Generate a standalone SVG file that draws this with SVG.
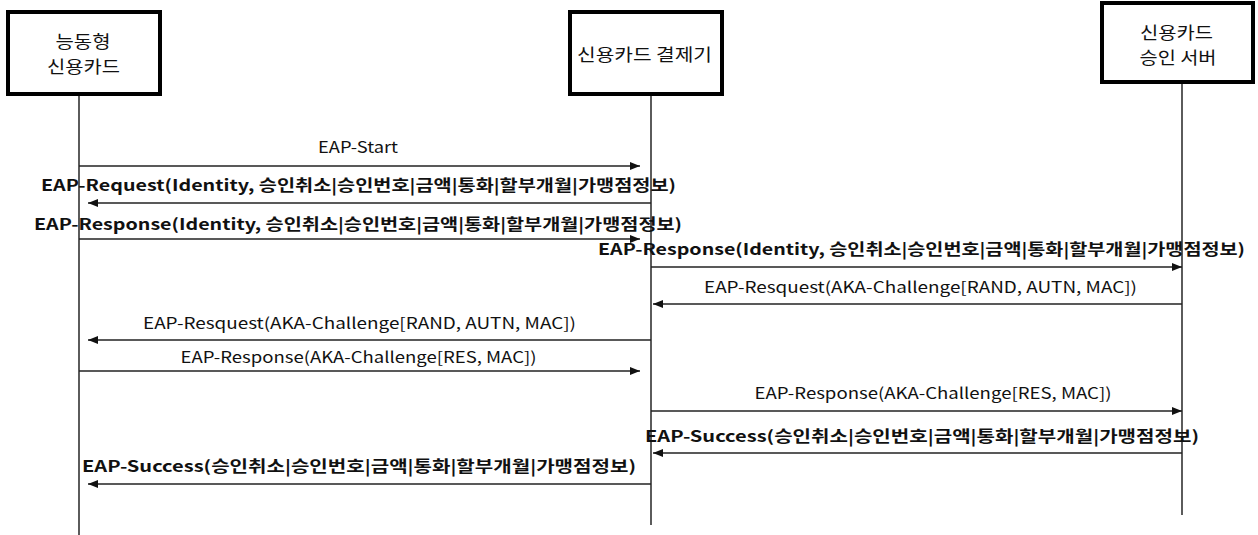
<svg xmlns="http://www.w3.org/2000/svg" width="1258" height="535" viewBox="0 0 1258 535">
<style>
.box{fill:#fff;stroke:#000;stroke-width:4}
.life{stroke:#333;stroke-width:1.6;fill:none}
.msg{stroke:#222;stroke-width:1.6;fill:none;marker-end:url(#ah)}
.nt{font-family:"Noto Sans CJK KR","Liberation Sans",sans-serif;font-size:17px;fill:#111;text-anchor:middle}
.lb{font-family:"Noto Sans CJK KR","Liberation Sans",sans-serif;font-size:15.5px;fill:#111;text-anchor:middle}
.bd{font-weight:700}
</style>
<defs>
<marker id="ah" markerUnits="userSpaceOnUse" markerWidth="11" markerHeight="9" refX="10" refY="4" orient="auto" viewBox="0 0 11 9">
<path d="M0,0 L10,4 L0,8 z" fill="#111"/>
</marker>
</defs>
<rect width="1258" height="535" fill="#fff"/>
<g id="node-card">
<rect class="box" x="8" y="12" width="152" height="82"/>
<text class="nt" x="83" y="48" textLength="55" lengthAdjust="spacingAndGlyphs">능동형</text>
<text class="nt" x="83.5" y="73" textLength="73" lengthAdjust="spacingAndGlyphs">신용카드</text>
<line class="life" x1="79" y1="96" x2="79" y2="535"/>
</g>
<g id="node-terminal">
<rect class="box" x="570" y="12" width="152" height="82"/>
<text class="nt" x="644.5" y="61" textLength="135" lengthAdjust="spacingAndGlyphs">신용카드 결제기</text>
<line class="life" x1="651" y1="96" x2="651" y2="525"/>
</g>
<g id="node-server">
<rect class="box" x="1102" y="3" width="151" height="79"/>
<text class="nt" x="1176.5" y="39" textLength="73" lengthAdjust="spacingAndGlyphs">신용카드</text>
<text class="nt" x="1178" y="64" textLength="77" lengthAdjust="spacingAndGlyphs">승인 서버</text>
<line class="life" x1="1182" y1="84" x2="1182" y2="515"/>
</g>
<g id="connectors">
<line class="msg" x1="79" y1="166" x2="640" y2="166"/>
<line class="msg" x1="651" y1="203" x2="88" y2="203"/>
<line class="msg" x1="79" y1="239" x2="640" y2="239"/>
<line class="msg" x1="651" y1="267" x2="1182" y2="267"/>
<line class="msg" x1="1182" y1="304" x2="653" y2="304"/>
<line class="msg" x1="651" y1="340" x2="88" y2="340"/>
<line class="msg" x1="79" y1="371" x2="640" y2="371"/>
<line class="msg" x1="651" y1="411" x2="1182" y2="411"/>
<line class="msg" x1="1182" y1="453" x2="653" y2="453"/>
<line class="msg" x1="651" y1="484" x2="88" y2="484"/>
</g>
<g id="labels">
<text class="lb" x="358" y="153" textLength="80" lengthAdjust="spacingAndGlyphs">EAP-Start</text>
<text class="lb bd" x="358.5" y="191" textLength="635" lengthAdjust="spacingAndGlyphs">EAP-Request(Identity, 승인취소|승인번호|금액|통화|할부개월|가맹점정보)</text>
<text class="lb bd" x="358" y="230" textLength="648" lengthAdjust="spacingAndGlyphs">EAP-Response(Identity, 승인취소|승인번호|금액|통화|할부개월|가맹점정보)</text>
<text class="lb bd" x="921.5" y="255" textLength="647" lengthAdjust="spacingAndGlyphs">EAP-Response(Identity, 승인취소|승인번호|금액|통화|할부개월|가맹점정보)</text>
<text class="lb" x="920.5" y="293" textLength="433" lengthAdjust="spacingAndGlyphs">EAP-Resquest(AKA-Challenge[RAND, AUTN, MAC])</text>
<text class="lb" x="359.5" y="329" textLength="433" lengthAdjust="spacingAndGlyphs">EAP-Resquest(AKA-Challenge[RAND, AUTN, MAC])</text>
<text class="lb" x="358.5" y="363" textLength="356" lengthAdjust="spacingAndGlyphs">EAP-Response(AKA-Challenge[RES, MAC])</text>
<text class="lb" x="933" y="399" textLength="357" lengthAdjust="spacingAndGlyphs">EAP-Response(AKA-Challenge[RES, MAC])</text>
<text class="lb bd" x="922" y="442" textLength="554" lengthAdjust="spacingAndGlyphs">EAP-Success(승인취소|승인번호|금액|통화|할부개월|가맹점정보)</text>
<text class="lb bd" x="359" y="472" textLength="554" lengthAdjust="spacingAndGlyphs">EAP-Success(승인취소|승인번호|금액|통화|할부개월|가맹점정보)</text>
</g>
</svg>
